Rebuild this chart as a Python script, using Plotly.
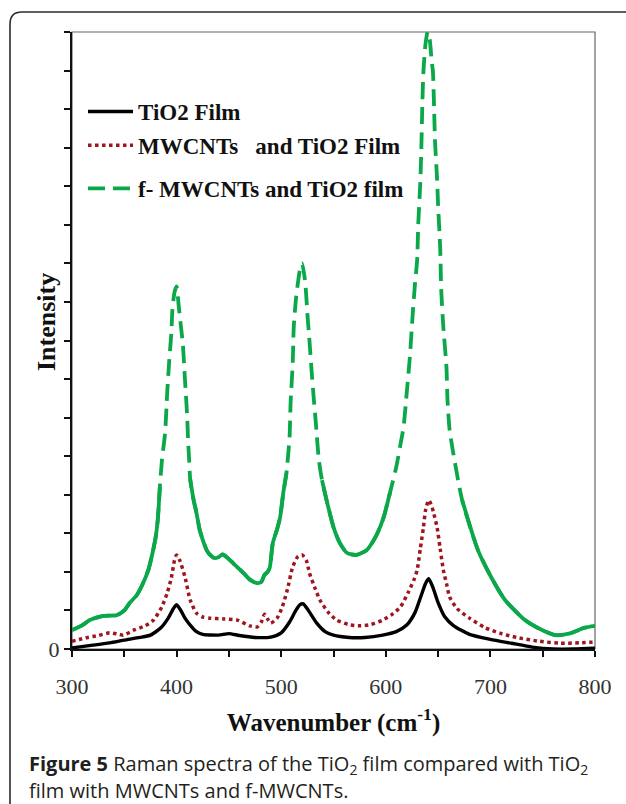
import plotly.graph_objects as go

# ---------------- data ----------------
tio2_x = [300,320,336,350,365,375,385,392,397,400,404,408,413,419,425,440,450,460,475,490,
          500,508,514,518,521,526,534,542,550,565,580,597,610,620,628,634,638,641,645,650,
          656,665,680,700,720,740,760,780,800]
tio2_y = [0.03,0.1,0.16,0.23,0.3,0.36,0.55,0.8,1.05,1.15,1.0,0.8,0.62,0.45,0.38,0.36,0.4,0.35,0.3,0.31,
          0.42,0.7,1.0,1.15,1.17,1.0,0.67,0.45,0.36,0.3,0.3,0.36,0.45,0.62,0.95,1.4,1.7,1.82,1.6,1.2,
          0.85,0.6,0.38,0.25,0.15,0.05,0.0,0.0,0.02]

mw_x = [300,315,325,336,345,349,360,370,378,386,391,395,398,400,403,408,413,419,425,432,
        445,458,470,477,481,484,487,490,496,501,506,511,516,520,524,527,532,537,545,553,
        565,575,585,597,606,614,622,627,630,633,636,638,641,644,646,649,652,655,658,661,
        668,680,695,709,725,747,767,785,800]
mw_y = [0.2,0.3,0.35,0.42,0.38,0.36,0.5,0.6,0.75,1.1,1.45,1.85,2.3,2.44,2.3,1.87,1.27,0.93,0.83,0.8,
        0.78,0.75,0.6,0.57,0.7,0.9,0.78,0.67,0.8,1.09,1.55,2.13,2.4,2.44,2.3,1.97,1.6,1.27,0.95,0.75,
        0.63,0.6,0.63,0.75,0.9,1.09,1.5,1.8,2.05,2.6,3.16,3.6,3.86,3.7,3.5,3.16,2.6,2.05,1.7,1.35,
        1.05,0.8,0.55,0.41,0.3,0.2,0.15,0.16,0.18]

fmw_x = [300,310,317,330,343,350,355,362,368,373,377,380,382,384,386,389,391,393,395,396,
         398,400,402,404,406,408,410,411,412,413,416,419,422,425,429,432,436,440,444,448,
         454,459,464,470,477,481,484,487,489,492,496,499,502,505,508,509,511,512,514,516,
         518,520,523,525,527,529,531,533,536,539,544,550,556,563,572,582,588,592,598,604,
         610,614,617,620,623,626,628,630,631,633,634,635,636,638,640,642,644,645,646,647,
         649,650,652,653,655,658,659,661,664,673,688,700,714,733,745,762,775,790,800]
fmw_y = [0.49,0.62,0.75,0.86,0.88,1.0,1.19,1.4,1.71,2.05,2.49,2.9,3.35,4.2,4.9,5.6,6.64,7.5,8.2,8.8,
         9.25,9.4,8.9,8.4,7.9,6.98,6.1,5.4,4.9,4.4,3.9,3.53,3.1,2.83,2.55,2.44,2.36,2.38,2.45,2.38,
         2.23,2.1,1.97,1.8,1.71,1.74,1.92,2.0,2.1,2.75,3.1,3.42,4.05,4.56,5.5,6.4,7.4,8.35,9.05,9.5,
         9.85,10.0,9.5,8.7,8.0,7.24,6.54,5.9,4.9,4.38,3.79,3.16,2.75,2.49,2.44,2.57,2.8,3.0,3.42,4.05,
         4.72,5.3,5.76,6.64,7.57,8.8,9.5,10.1,11.0,12.1,13.0,14.2,15.0,15.7,16.0,15.8,15.2,15.0,14.2,13.2,
         12.2,11.5,10.4,9.3,8.35,7.3,6.45,5.68,5.16,3.86,2.57,1.9,1.27,0.75,0.55,0.36,0.4,0.55,0.6]

series_names = ["TiO2 Film", "MWCNTs\u00a0\u00a0\u00a0and TiO2 Film", "f- MWCNTs and TiO2 film"]

x_tick_vals = [300, 350, 400, 450, 500, 550, 600, 650, 700, 750, 800]
x_tick_text = ["300", "", "400", "", "500", "", "600", "", "700", "", "800"]
y_tick_vals = list(range(0, 17))
y_tick_text = ["0"] + [""] * 16

x_title = "<b>Wavenumber (cm<sup>-1</sup>)</b>"
y_title = "<b>Intensity</b>"
caption_line1 = "<b>Figure 5</b> Raman spectra of the TiO<sub>2</sub> film compared with TiO<sub>2</sub>"
caption_line2 = "film with MWCNTs and f-MWCNTs."

# ---------------- styling ----------------
BLACK = "#000000"
RED = "#9E1620"
GREEN = "#0BA84A"
SERIF = "Liberation Serif, Times New Roman, serif"
SANS = "Open Sans, Noto Sans, sans-serif"

W, H = 626, 804
ML, MR, MT, MB = 72, 31, 32, 155
PW = W - ML - MR
PH = H - MT - MB

def px_to_paper_x(px):
    return (px - ML) / PW

def px_to_paper_y(py):
    return (H - MB - py) / PH

fig = go.Figure()

fig.add_trace(go.Scatter(
    x=tio2_x, y=tio2_y, mode="lines", name=series_names[0],
    line=dict(color=BLACK, width=3.4, shape="spline", smoothing=0.6),
    legendgroup="a", legend="legend",
))
fig.add_trace(go.Scatter(
    x=mw_x, y=mw_y, mode="lines", name=series_names[1],
    line=dict(color=RED, width=3.5, dash="3.5px,3.5px", shape="spline", smoothing=0.6),
    legendgroup="b", legend="legend",
))
fig.add_trace(go.Scatter(
    x=fmw_x, y=fmw_y, mode="lines", name=series_names[2],
    line=dict(color=GREEN, width=3.8, dash="17px,8px", shape="spline", smoothing=0.6),
    legendgroup="c", legend="legend2",
))
# low, slowly varying parts of the green spectrum look solid in the original
solid_y = [v if v <= 4.6 else None for v in fmw_y]
fig.add_trace(go.Scatter(
    x=fmw_x, y=solid_y, mode="lines", showlegend=False, hoverinfo="skip",
    line=dict(color=GREEN, width=3.8, shape="spline", smoothing=0.6),
    connectgaps=False, legendgroup="c", legend="legend2",
))

# card border (rounded, right side cut off)
x0, x1 = px_to_paper_x(10), px_to_paper_x(660)
y0, y1 = px_to_paper_y(12), px_to_paper_y(830)
rx, ry = 12 / PW, 12 / PH
card = (f"M {x0+rx},{y0} L {x1},{y0} L {x1},{y1} L {x0+rx},{y1} "
        f"Q {x0},{y1} {x0},{y1+ry} L {x0},{y0-ry} Q {x0},{y0} {x0+rx},{y0} Z")
fig.add_shape(type="path", path=card, xref="paper", yref="paper",
              line=dict(color="#2b2b2b", width=1.6), layer="below")
# plot frame (thin grey top/right)
fig.add_shape(type="rect", xref="paper", yref="paper", x0=0, y0=0, x1=1, y1=1,
              line=dict(color="#666666", width=1.2), layer="below")

fig.add_annotation(text=y_title, xref="paper", yref="paper", textangle=-90,
                   x=px_to_paper_x(46), y=px_to_paper_y(322), xanchor="center", yanchor="middle",
                   showarrow=False, font=dict(family=SERIF, size=26, color="#111111"))
fig.add_annotation(text=caption_line1, xref="paper", yref="paper",
                   x=px_to_paper_x(27), y=px_to_paper_y(764), xanchor="left", yanchor="middle",
                   showarrow=False, font=dict(family=SANS, size=20, color="#231f20"), align="left")
fig.add_annotation(text=caption_line2, xref="paper", yref="paper",
                   x=px_to_paper_x(27), y=px_to_paper_y(790), xanchor="left", yanchor="middle",
                   showarrow=False, font=dict(family=SANS, size=20, color="#231f20"), align="left")

legend_font = dict(family=SERIF, size=23, color="#111111", weight="bold")
fig.update_layout(
    width=W, height=H,
    margin=dict(l=ML, r=MR, t=MT, b=MB),
    paper_bgcolor="white", plot_bgcolor="white",
    showlegend=True,
    legend=dict(
        x=px_to_paper_x(83), y=px_to_paper_y(90), xanchor="left", yanchor="top",
        bgcolor="rgba(0,0,0,0)", borderwidth=0, font=legend_font,
        itemwidth=45, tracegroupgap=1, traceorder="grouped",
    ),
    legend2=dict(
        x=px_to_paper_x(83), y=px_to_paper_y(167), xanchor="left", yanchor="top",
        bgcolor="rgba(0,0,0,0)", borderwidth=0, font=legend_font,
        itemwidth=45,
    ),
    xaxis=dict(
        range=[300, 800], tickmode="array", tickvals=x_tick_vals, ticktext=x_tick_text,
        ticks="outside", ticklen=6, tickwidth=1.5, tickcolor="#111",
        showline=True, linecolor="#111", linewidth=2, showgrid=False, zeroline=False,
        tickfont=dict(family=SERIF, size=22, color="#333333"),
        ticklabelstandoff=11,
        title=dict(text=x_title, standoff=15,
                   font=dict(family=SERIF, size=25, color="#111111")),
    ),
    yaxis=dict(
        range=[0, 16], tickmode="array", tickvals=y_tick_vals, ticktext=y_tick_text,
        ticks="outside", ticklen=6, tickwidth=1.5, tickcolor="#111",
        showline=True, linecolor="#111", linewidth=2, showgrid=False, zeroline=False,
        tickfont=dict(family=SERIF, size=22, color="#333333"),
    ),
)

fig.write_html("out.html", config={"displayModeBar": False},
               post_script="document.body.style.margin='0';")
